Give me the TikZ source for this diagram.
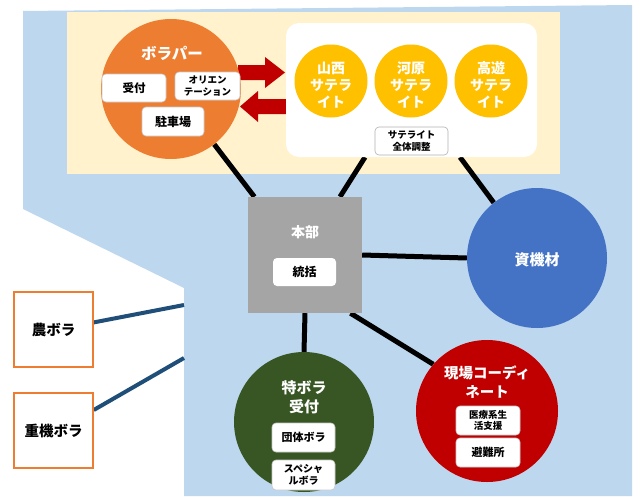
\documentclass[tikz,border=0pt]{standalone}
\usepackage{fontspec}
\newfontfamily\jp{Noto Sans CJK JP}
\usetikzlibrary{calc}
\definecolor{bgblue}{HTML}{BDD7EE}
\definecolor{cream}{HTML}{FFF2CC}
\definecolor{orng}{HTML}{ED7D31}
\definecolor{darkred}{HTML}{C00000}
\definecolor{ylw}{HTML}{FFC000}
\definecolor{gry}{HTML}{A5A5A5}
\definecolor{blu}{HTML}{4472C4}
\definecolor{grn}{HTML}{375623}
\definecolor{navy}{HTML}{1F4E79}
\newcommand{\fsz}[2]{\fontsize{#1}{#2}\selectfont}
\pgfdeclarelayer{back}
\pgfdeclarelayer{wires}
\pgfsetlayers{back,wires,main}
\begin{document}
\begin{tikzpicture}[x=1pt,y=-1pt,
  disc/.style={circle,inner sep=0pt,draw=none},
  wbox/.style={rectangle,rounded corners=4pt,fill=white,draw=black!22,line width=0.6pt,inner sep=0pt,align=center,text=black},
  ctext/.style={text=white,align=center,inner sep=0pt},
  wire/.style={line width=5pt,black},
  navyline/.style={line width=4pt,navy},
  obox/.style={rectangle,draw=orng,line width=1.5pt,fill=white,minimum width=79pt,minimum height=75pt,inner sep=0pt,font=\jp\bfseries\fsz{14.5}{17}},
  redarrow/.style={fill=darkred}
]
\useasboundingbox (0,0) rectangle (637,498);
\begin{pgfonlayer}{back}
  \fill[bgblue] (23,11) -- (632,5) -- (632,496) -- (184,496) -- (184,288) -- (23,209) -- cycle;
  \fill[cream] (67,12) rectangle (560,174);
\end{pgfonlayer}

% red block arrows
\fill[redarrow] (238,65) -- (265,65) -- (265,57) -- (285,72.5) -- (265,88) -- (265,80) -- (238,80) -- cycle;
\fill[redarrow] (288,99) -- (258,99) -- (258,91) -- (240,106.5) -- (258,122) -- (258,114) -- (288,114) -- cycle;

% volunteer park
\node[disc,fill=orng,minimum size=140pt] (bp) at (171,89) {};
\node[ctext,font=\jp\bfseries\fsz{15.5}{18}] (bpt) at (172,53) {ボラパー};
\node[wbox,minimum width=64pt,minimum height=28pt,font=\jp\bfseries\fsz{11.5}{13}] (uk) at (134,88) {受付};
\node[wbox,minimum width=65pt,minimum height=28pt,font=\jp\bfseries\fsz{9.5}{11.5}] (ori) at (207.5,86) {オリエン\\テーション};
\node[wbox,minimum width=62pt,minimum height=29pt,font=\jp\bfseries\fsz{12}{14}] (park) at (173,121.5) {駐車場};

% satellites
\node[rectangle,rounded corners=13pt,fill=white,minimum width=251pt,minimum height=134pt,inner sep=0pt] (satbox) at (411.5,90) {};
\node[disc,fill=ylw,minimum size=73pt] (s1) at (331,81) {};
\node[disc,fill=ylw,minimum size=73pt] (s2) at (411,81) {};
\node[disc,fill=ylw,minimum size=73pt] (s3) at (491,81) {};
\node[ctext,font=\jp\bfseries\fsz{14}{17}] (s1t) at (331,85) {山西\\サテラ\\イト};
\node[ctext,font=\jp\bfseries\fsz{14}{17}] (s2t) at (411,85) {河原\\サテラ\\イト};
\node[ctext,font=\jp\bfseries\fsz{14}{17}] (s3t) at (491,85) {高遊\\サテラ\\イト};
\node[wbox,draw=black!30,minimum width=73pt,minimum height=28pt,font=\jp\bfseries\fsz{9.5}{11.5}] (satall) at (411.5,141) {サテライト\\全体調整};

% headquarters
\node[rectangle,fill=gry,minimum width=114pt,minimum height=116pt,inner sep=0pt] (hq) at (305,255) {};
\node[ctext,font=\jp\bfseries\fsz{14}{16}] (hqt) at (305,232) {本部};
\node[wbox,draw=none,minimum width=63pt,minimum height=28pt,font=\jp\bfseries\fsz{12}{14}] (tokatsu) at (304.5,272) {統括};

% materials
\node[disc,fill=blu,minimum size=140pt] (res) at (537,258) {};
\node[ctext,font=\jp\bfseries\fsz{15}{17}] (rest) at (537,260) {資機材};

% special volunteer reception
\node[disc,fill=grn,minimum size=140pt] (tok) at (304,422) {};
\node[ctext,font=\jp\bfseries\fsz{15}{19}] (tokt) at (304,397.5) {特ボラ\\受付};
\node[wbox,minimum width=63pt,minimum height=29pt,font=\jp\bfseries\fsz{11}{13}] (dantai) at (303.5,437.5) {団体ボラ};
\node[wbox,minimum width=63pt,minimum height=30pt,font=\jp\bfseries\fsz{10}{12}] (special) at (303.5,475) {スペシャ\\ルボラ};

% site coordination
\node[disc,fill=darkred,minimum size=142pt] (gen) at (487,411) {};
\node[ctext,font=\jp\bfseries\fsz{14.5}{19}] (gent) at (487,382.5) {現場コーディ\\ネート};
\node[wbox,minimum width=64pt,minimum height=29pt,font=\jp\bfseries\fsz{9.5}{11.5}] (iryo) at (488,420.5) {医療系生\\活支援};
\node[wbox,minimum width=64pt,minimum height=29pt,font=\jp\bfseries\fsz{11}{13}] (hinan) at (488,452.5) {避難所};

% outside boxes
\node[obox] (nou) at (53.5,329.5) {農ボラ};
\node[obox] (juki) at (53.5,430.5) {重機ボラ};
\coordinate (n1) at (184,305);
\coordinate (n2) at (184,358);

\begin{pgfonlayer}{wires}
  \draw[wire] (bp.-52) -- (hq.131);
  \draw[wire] ($(satbox.south west)!0.315!(satbox.south east)$) -- (hq.59);
  \draw[wire] ($(satbox.south west)!0.693!(satbox.south east)$) -- (res.128);
  \draw[wire] (hq.east) -- (res.west);
  \draw[wire] (hq.south) -- (tok.north);
  \draw[wire] (hq.-52) -- (gen.139);
  \draw[navyline] (nou.10) -- (n1);
  \draw[navyline] (juki.27) -- (n2);
\end{pgfonlayer}
\end{tikzpicture}
\end{document}
